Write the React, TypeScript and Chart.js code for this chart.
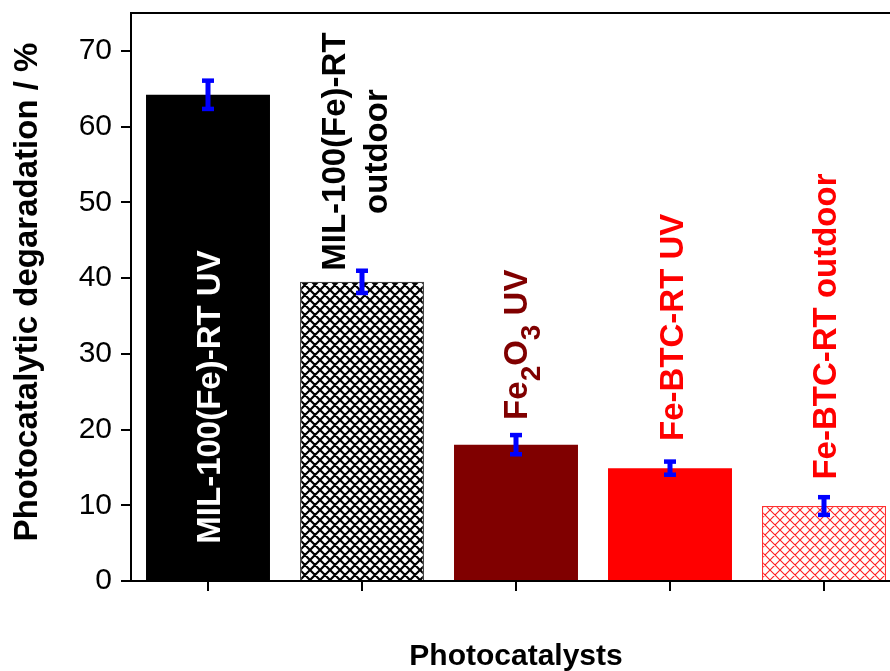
import { useEffect, useRef } from "react";
import { Chart, registerables } from "chart.js";

Chart.register(...registerables);

// ---------- data ----------
const categories = [
  "MIL-100(Fe)-RT UV",
  "MIL-100(Fe)-RT outdoor",
  "Fe2O3 UV",
  "Fe-BTC-RT UV",
  "Fe-BTC-RT outdoor",
];
const degradation = [64.2, 39.5, 18.0, 14.9, 9.9];
const errorValues = [1.9, 1.5, 1.3, 0.9, 1.2];
const yTickValues = [0, 10, 20, 30, 40, 50, 60, 70];
const yAxisMax = 75;

// bar annotation text: lines -> segments (sub = subscript)
type Seg = { t: string; sub?: boolean };
const barLabelLines: Seg[][][] = [
  [[{ t: "MIL-100(Fe)-RT UV" }]],
  [[{ t: "MIL-100(Fe)-RT" }], [{ t: "outdoor" }]],
  [[{ t: "Fe" }, { t: "2", sub: true }, { t: "O" }, { t: "3", sub: true }, { t: " UV" }]],
  [[{ t: "Fe-BTC-RT UV" }]],
  [[{ t: "Fe-BTC-RT outdoor" }]],
];
// value (on y axis) at which each label is centred
const barLabelCenter = [24.3, 56.7, 31.2, 33.5, 33.6];

const yTitle = "Photocatalytic degaradation / %";
const xTitle = "Photocatalysts";

// ---------- styles ----------
const FONT = "'Liberation Sans', Arial, Helvetica, sans-serif";
const barFill = ["#000000", "hatch-black", "#800000", "#ff0000", "hatch-red"];
const barBorder = ["#000000", "#444444", "#800000", "#ff0000", "#ff3030"];
const barBorderWidth = [0, 1.2, 0, 0, 1.2];
const labelColors = ["#ffffff", "#000000", "#800000", "#ff0000", "#ff0000"];
const labelShiftPx = [0, -8, -1, 1, 0];

function makeHatch(color: string, size: number, lw: number): CanvasPattern | string {
  const c = document.createElement("canvas");
  c.width = size;
  c.height = size;
  const g = c.getContext("2d");
  if (!g) return color;
  g.fillStyle = "#ffffff";
  g.fillRect(0, 0, size, size);
  g.strokeStyle = color;
  g.lineWidth = lw;
  g.beginPath();
  for (let k = -1; k <= 1; k++) {
    g.moveTo(k * size, 0);
    g.lineTo(k * size + size, size);
    g.moveTo(k * size + size, 0);
    g.lineTo(k * size, size);
  }
  g.stroke();
  const p = g.createPattern(c, "repeat");
  return p || color;
}

export default function App() {
  const ref = useRef<HTMLCanvasElement | null>(null);

  useEffect(() => {
    const canvas = ref.current;
    if (!canvas) return;

    const fills = barFill.map((f) => {
      if (f === "hatch-black") return makeHatch("#000000", 10, 2.2);
      if (f === "hatch-red") return makeHatch("#ff2020", 10, 1.1);
      return f;
    });

    const overlay = {
      id: "overlay",
      afterDatasetsDraw(chart: any) {
        const ctx: CanvasRenderingContext2D = chart.ctx;
        const ys = chart.scales.y;
        const meta = chart.getDatasetMeta(0);
        const area = chart.chartArea;

        // top frame line
        ctx.save();
        ctx.strokeStyle = "#000";
        ctx.lineWidth = 2;
        ctx.beginPath();
        ctx.moveTo(area.left - 1, area.top);
        ctx.lineTo(area.right, area.top);
        ctx.stroke();
        ctx.restore();

        // error bars
        ctx.save();
        ctx.fillStyle = "#0000ff";
        degradation.forEach((v, i) => {
          const bar = meta.data[i];
          if (!bar) return;
          const x = bar.x;
          const yTop = ys.getPixelForValue(v + errorValues[i]);
          const yBot = ys.getPixelForValue(v - errorValues[i]);
          ctx.fillRect(x - 2.5, yTop, 5, yBot - yTop);
          ctx.fillRect(x - 6, yTop - 2, 12, 4.5);
          ctx.fillRect(x - 6, yBot - 2.5, 12, 4.5);
        });
        ctx.restore();

        // labels
        const mainSize = 33;
        const subSize = 28;
        const lineGap = 42;
        const baseOff = 12;
        barLabelLines.forEach((lines, i) => {
          const bar = meta.data[i];
          if (!bar) return;
          const cx = bar.x + labelShiftPx[i];
          const cy = ys.getPixelForValue(barLabelCenter[i]);
          ctx.save();
          ctx.translate(cx, cy);
          ctx.rotate(-Math.PI / 2);
          ctx.fillStyle = labelColors[i];
          ctx.textBaseline = "alphabetic";
          ctx.textAlign = "left";
          const n = lines.length;
          lines.forEach((segs, li) => {
            const bl = baseOff + (li - (n - 1) / 2) * lineGap;
            let total = 0;
            const widths = segs.map((s) => {
              ctx.font = `bold ${s.sub ? subSize : mainSize}px ${FONT}`;
              const w = ctx.measureText(s.t).width;
              total += w;
              return w;
            });
            let cur = -total / 2;
            segs.forEach((s, si) => {
              ctx.font = `bold ${s.sub ? subSize : mainSize}px ${FONT}`;
              ctx.fillText(s.t, cur, bl + (s.sub ? 13 : 0));
              cur += widths[si];
            });
          });
          ctx.restore();
        });
      },
      afterDraw(chart: any) {
        const ctx: CanvasRenderingContext2D = chart.ctx;
        const area = chart.chartArea;
        ctx.save();
        ctx.fillStyle = "#000";
        ctx.textAlign = "center";
        ctx.textBaseline = "alphabetic";
        ctx.font = `bold 30px ${FONT}`;
        ctx.fillText(xTitle, (area.left + area.right) / 2, 665);
        ctx.translate(37, (area.top + area.bottom) / 2 - 5);
        ctx.rotate(-Math.PI / 2);
        ctx.font = `bold 33px ${FONT}`;
        ctx.fillText(yTitle, 0, 0);
        ctx.restore();
      },
    };

    const chart = new Chart(canvas, {
      type: "bar",
      data: {
        labels: categories,
        datasets: [
          {
            data: degradation,
            backgroundColor: fills as any,
            borderColor: barBorder,
            borderWidth: barBorderWidth,
            categoryPercentage: 1,
            barPercentage: 0.805,
          },
        ],
      },
      options: {
        responsive: false,
        animation: false,
        layout: { padding: { top: 13, left: 0, right: 19, bottom: 0 } },
        plugins: {
          legend: { display: false },
          tooltip: { enabled: false },
          title: { display: false },
        },
        scales: {
          x: {
            offset: true,
            grid: {
              display: true,
              drawOnChartArea: false,
              drawTicks: true,
              tickLength: 10,
              offset: false,
              color: "#000",
              lineWidth: 2,
            },
            border: { display: true, color: "#000", width: 2 },
            ticks: { display: false },
            afterFit(scale: any) {
              scale.height = 90;
              scale.paddingLeft = 0;
              scale.paddingRight = 0;
            },
          },
          y: {
            min: 0,
            max: yAxisMax,
            grid: {
              display: true,
              drawOnChartArea: false,
              drawTicks: true,
              tickLength: 10,
              color: "#000",
              lineWidth: 2,
            },
            border: { display: true, color: "#000", width: 2 },
            ticks: {
              stepSize: 10,
              includeBounds: false,
              padding: 9,
              color: "#000",
              font: { family: FONT, size: 30 },
            },
            afterBuildTicks(scale: any) {
              scale.ticks = yTickValues.map((v) => ({ value: v }));
            },
            afterFit(scale: any) {
              scale.width = 131;
              scale.paddingTop = 0;
              scale.paddingBottom = 0;
            },
          },
        },
      },
      plugins: [overlay],
    });

    return () => chart.destroy();
  }, []);

  return (
    <div
      style={{
        position: "absolute",
        left: 0,
        top: 0,
        width: 890,
        height: 671,
        overflow: "hidden",
        background: "#fff",
      }}
    >
      <canvas ref={ref} width={920} height={671} style={{ display: "block", width: 920, height: 671 }} />
    </div>
  );
}
